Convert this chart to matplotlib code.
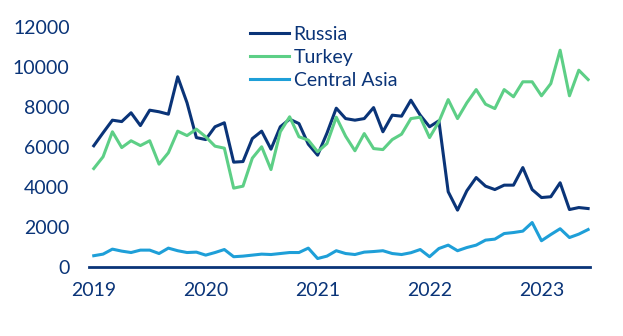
import numpy as np
import matplotlib.pyplot as plt

plt.rcParams['font.family'] = ['Lato', 'DejaVu Sans']

# monthly values, Jan 2019 - Jun 2023
russia = [6070, 6720, 7350, 7280, 7720, 7080, 7850, 7770, 7650, 9520, 8220, 6480,
          6380, 7020, 7220, 5250, 5280, 6430, 6800, 5900, 7020, 7400, 7180, 6150,
          5600, 6700, 7950, 7430, 7350, 7430, 7980, 6770, 7600, 7550, 8350, 7600,
          7020, 7320, 3770, 2850, 3820, 4480, 4050, 3880, 4100, 4100, 4980, 3880,
          3480, 3520, 4220, 2880, 2980, 2930]
turkey = [4930, 5520, 6770, 5980, 6320, 6080, 6320, 5150, 5720, 6800, 6580, 6900,
          6520, 6050, 5950, 3950, 4050, 5450, 6020, 4880, 6770, 7520, 6520, 6350,
          5770, 6180, 7500, 6550, 5820, 6680, 5930, 5880, 6380, 6650, 7430, 7500,
          6480, 7270, 8380, 7430, 8220, 8880, 8150, 7930, 8880, 8520, 9270, 9270,
          8570, 9180, 10850, 8570, 9850, 9380]
central_asia = [570, 650, 900, 800, 730, 850, 850, 680, 950, 820, 730, 750,
                600, 730, 880, 520, 550, 600, 650, 630, 680, 730, 730, 950,
                430, 550, 820, 680, 630, 750, 780, 820, 680, 630, 720, 880,
                520, 930, 1100, 820, 980, 1100, 1350, 1400, 1680, 1730, 1800, 2230,
                1320, 1630, 1920, 1480, 1650, 1880]
years = ['2019', '2020', '2021', '2022', '2023']
yticks = [0, 2000, 4000, 6000, 8000, 10000, 12000]

navy = '#0a3478'
x = np.arange(len(russia))

fig = plt.figure(figsize=(6.23, 3.36), dpi=100)
ax = fig.add_axes([0.143, 0.205, 0.804, 0.714])

ax.plot(x, russia, color=navy, lw=2.2, label='Russia')
ax.plot(x, turkey, color='#5dcf86', lw=2.2, label='Turkey')
ax.plot(x, central_asia, color='#1e9fd8', lw=2.2, label='Central Asia')

ax.set_ylim(0, 12000)
ax.set_xlim(-0.5, 53.2)
ax.set_yticks(yticks)
ax.set_xticks(np.arange(0, 60, 12))
ax.set_xticklabels(years)
ax.tick_params(length=0, labelsize=14, labelcolor=navy)
ax.tick_params(axis='y', pad=14)
ax.tick_params(axis='x', pad=11)

for s in ['top', 'right', 'left']:
    ax.spines[s].set_visible(False)
ax.spines['bottom'].set_color(navy)
ax.spines['bottom'].set_linewidth(2)

leg = ax.legend(loc='upper left', bbox_to_anchor=(0.321, 1.006), frameon=False,
                borderaxespad=0, borderpad=0,
                fontsize=14, handlelength=2.0, handletextpad=0.25, labelspacing=0.31)
for t in leg.get_texts():
    t.set_color(navy)

fig.savefig('out.png', dpi=100)
